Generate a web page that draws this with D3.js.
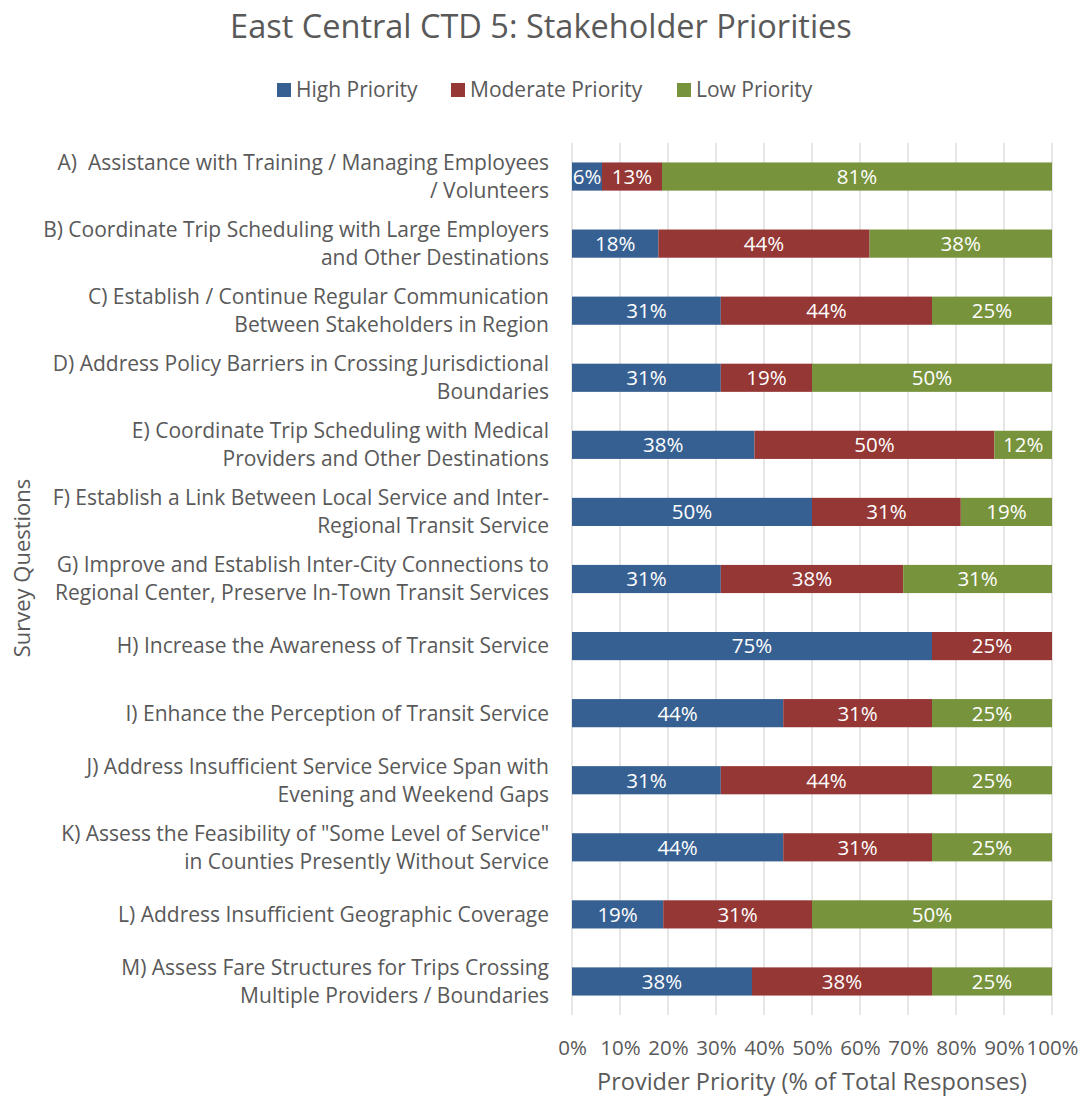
<!DOCTYPE html>
<html>
<head>
<meta charset="utf-8">
<script src="https://cdn.jsdelivr.net/npm/d3@7"></script>
<style>
  html, body { margin: 0; padding: 0; background: #fff; }
  svg { display: block; font-family: "Open Sans", sans-serif; }
  text { white-space: pre; }
</style>
</head>
<body>
<svg id="chart" width="1081" height="1097"></svg>
<script>
// Survey questions (each label split into its display lines)
const questions = [
  ["A)  Assistance with Training / Managing Employees", "/ Volunteers"],
  ["B) Coordinate Trip Scheduling with Large Employers", "and Other Destinations"],
  ["C) Establish / Continue Regular Communication", "Between Stakeholders in Region"],
  ["D) Address Policy Barriers in Crossing Jurisdictional", "Boundaries"],
  ["E) Coordinate Trip Scheduling with Medical", "Providers and Other Destinations"],
  ["F) Establish a Link Between Local Service and Inter-", "Regional Transit Service"],
  ["G) Improve and Establish Inter-City Connections to", "Regional Center, Preserve In-Town Transit Services"],
  ["H) Increase the Awareness of Transit Service"],
  ["I) Enhance the Perception of Transit Service"],
  ["J) Address Insufficient Service Service Span with", "Evening and Weekend Gaps"],
  ["K) Assess the Feasibility of \"Some Level of Service\"", "in Counties Presently Without Service"],
  ["L) Address Insufficient Geographic Coverage"],
  ["M) Assess Fare Structures for Trips Crossing", "Multiple Providers / Boundaries"]
];

const seriesNames = ["High Priority", "Moderate Priority", "Low Priority"];

// Share of responses (%) per question
const highPriority     = [6.25, 18, 31, 31, 38, 50, 31, 75, 44, 31, 44, 19, 37.5];
const moderatePriority = [12.5, 44, 44, 19, 50, 31, 38, 25, 31, 44, 31, 31, 37.5];
const lowPriority      = [81.25, 38, 25, 50, 12, 19, 31, 0, 25, 25, 25, 50, 25];

const xTicks = [0, 10, 20, 30, 40, 50, 60, 70, 80, 90, 100];

const colors = ["#376092", "#953735", "#77933C"];
const textColor = "#595959";

const svg = d3.select("#chart");
const margin = { left: 572, right: 29, top: 143, bottom: 82 };
const W = 1081, H = 1097;

const rows = questions.map((q, i) => ({
  id: i,
  label: q,
  "High Priority": highPriority[i],
  "Moderate Priority": moderatePriority[i],
  "Low Priority": lowPriority[i]
}));

const x = d3.scaleLinear().domain([0, 100]).range([margin.left, W - margin.right]);
const y = d3.scaleBand().domain(rows.map(d => d.id))
  .range([margin.top, H - margin.bottom]).paddingInner(0.58).paddingOuter(0.29);

// Gridlines
svg.append("g")
  .selectAll("line").data(xTicks).join("line")
  .attr("x1", d => x(d)).attr("x2", d => x(d))
  .attr("y1", margin.top).attr("y2", H - margin.bottom)
  .attr("stroke", "#d9d9d9").attr("stroke-width", 1.3);

// X axis tick labels
const xAxis = d3.axisBottom(x).tickValues(xTicks).tickFormat(d => d + "%").tickSize(0).tickPadding(0);
const gx = svg.append("g").attr("transform", `translate(0, ${H - margin.bottom + 33})`).call(xAxis);
gx.select(".domain").remove();
gx.selectAll("text").attr("fill", textColor).attr("font-size", 20.5).attr("dy", "0.35em")
  .attr("font-family", "'Open Sans', sans-serif");

// Stacked bars
const stack = d3.stack().keys(seriesNames);
const stacked = stack(rows);

const layers = svg.append("g").selectAll("g").data(stacked).join("g")
  .attr("fill", (d, i) => colors[i]);

layers.selectAll("rect").data(d => d.filter(s => s[1] - s[0] > 0)).join("rect")
  .attr("x", d => x(d[0]))
  .attr("width", d => x(d[1]) - x(d[0]))
  .attr("y", d => y(d.data.id))
  .attr("height", y.bandwidth());

// Value labels
const labelG = svg.append("g");
stacked.forEach(layer => {
  layer.forEach(s => {
    const v = s[1] - s[0];
    if (v <= 0) return;
    labelG.append("text")
      .attr("x", x((s[0] + s[1]) / 2))
      .attr("y", y(s.data.id) + y.bandwidth() / 2)
      .attr("dy", "0.36em")
      .attr("text-anchor", "middle")
      .attr("fill", "#fff")
      .attr("font-size", 20.5)
      .text(Math.round(v) + "%");
  });
});

// Category labels
const yl = svg.append("g");
rows.forEach(r => {
  const cy = y(r.id) + y.bandwidth() / 2;
  const n = r.label.length;
  const t = yl.append("text")
    .attr("x", 549)
    .attr("text-anchor", "end")
    .attr("fill", textColor)
    .attr("font-size", 21);
  r.label.forEach((line, k) => {
    t.append("tspan")
      .attr("x", 549)
      .attr("y", cy + (k - (n - 1) / 2) * 28)
      .attr("dy", "0.35em")
      .text(line);
  });
});

// Title
svg.append("text")
  .attr("x", 541).attr("y", 27).attr("dy", "0.35em")
  .attr("text-anchor", "middle")
  .attr("fill", textColor)
  .attr("font-size", 32.5)
  .text("East Central CTD 5: Stakeholder Priorities");

// Legend
const legendItems = [
  { name: seriesNames[0], x: 277 },
  { name: seriesNames[1], x: 451 },
  { name: seriesNames[2], x: 677 }
];
const lg = svg.append("g");
legendItems.forEach((it, i) => {
  lg.append("rect").attr("x", it.x).attr("y", 83).attr("width", 14).attr("height", 14).attr("fill", colors[i]);
  lg.append("text").attr("x", it.x + 19).attr("y", 90).attr("dy", "0.35em")
    .attr("fill", textColor).attr("font-size", 21).text(it.name);
});

// Axis titles
svg.append("text")
  .attr("x", 812).attr("y", 1082).attr("dy", "0.35em")
  .attr("text-anchor", "middle")
  .attr("fill", textColor).attr("font-size", 23.5)
  .text("Provider Priority (% of Total Responses)");

svg.append("text")
  .attr("transform", "translate(22, 568) rotate(-90)")
  .attr("dy", "0.35em")
  .attr("text-anchor", "middle")
  .attr("fill", textColor).attr("font-size", 22)
  .text("Survey Questions");
</script>
</body>
</html>
